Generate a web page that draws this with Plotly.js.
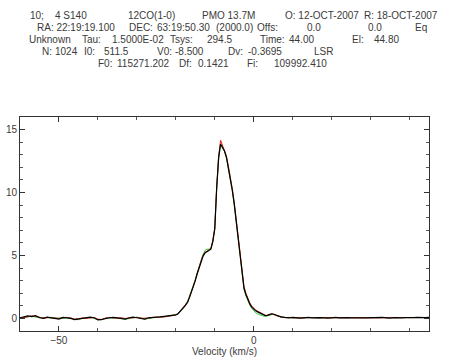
<!DOCTYPE html>
<html>
<head>
<meta charset="utf-8">
<script src="https://cdn.plot.ly/plotly-3.0.1.min.js"></script>
<style>html,body{margin:0;padding:0;background:#fff;}#chart{width:449px;height:362px;}</style>
</head>
<body>
<div id="chart"></div>
<script>
// ---------------- DATA ----------------
const velocity = [
 -60,-59,-58,-57,-56,-55,-54,-53,-52,-51,-50,-49,-48,-47,-46,-45,-44,-43,-42,-41,
 -40,-39,-38,-37,-36,-35,-34,-33,-32,-31,-30,-29,-28,-27,-26,-25,-24,-23,
 -22,-21.5,-21,-20.5,-20,-19.5,-19,-18.5,-18,-17.5,-17,-16.5,-16,-15.5,-15,-14.5,-14,-13.5,
 -13,-12.5,-12,-11.5,-11,-10.5,-10,-9.5,-9,-8.5,-8,-7.5,-7,-6.5,-6,-5.5,-5,-4.5,-4,-3.5,
 -3,-2.5,-2,-1.5,-1,-0.5,0,0.5,1,1.5,2,2.5,3,3.5,4,4.5,5,5.5,6,
 7,8,9,10,11,12,13,14,15,16,17,18,19,20,21,22,23,24,25,26,27,28,29,30,
 31,32,33,34,35,36,37,38,39,40,41,42,43,44,45
];
const tBlack = [
 0.05,0.10,0.20,0.15,0.22,0.05,0.00,0.10,0.05,0.00,-0.05,0.08,0.05,0.00,-0.10,-0.05,0.00,0.05,0.10,0.05,
 -0.12,-0.08,0.00,0.05,0.08,0.05,0.00,-0.05,0.05,0.10,0.05,0.00,-0.05,0.05,0.10,0.10,0.12,0.15,
 0.18,0.20,0.22,0.25,0.28,0.35,0.50,0.68,0.85,1.05,1.27,1.65,2.05,2.50,3.00,3.55,4.05,4.55,
 4.95,5.20,5.30,5.40,5.50,6.10,7.10,10.40,12.80,13.85,13.60,13.30,12.80,12.00,11.20,10.20,9.10,7.70,6.30,4.80,
 3.50,2.40,1.90,1.45,1.15,0.90,0.72,0.60,0.52,0.45,0.35,0.28,0.22,0.24,0.30,0.36,0.35,0.28,0.22,
 0.12,0.08,0.05,0.08,0.05,0.02,0.05,0.08,0.04,0.02,0.06,0.05,0.02,0.05,0.08,0.04,0.02,0.06,0.05,0.03,0.07,0.05,0.04,0.06,
 0.03,0.05,0.08,0.05,0.02,0.06,0.04,0.05,0.07,0.05,0.06,0.08,0.06,0.07,0.08
];
const tRed = [
 0.00,0.08,0.15,0.20,0.18,0.08,0.02,0.05,0.08,0.02,0.00,0.05,0.08,0.02,-0.05,-0.02,0.03,0.00,0.05,0.08,
 -0.05,-0.10,0.02,0.08,0.05,0.02,0.05,0.00,0.02,0.08,0.08,0.02,0.00,0.02,0.08,0.12,0.10,0.12,
 0.15,0.18,0.20,0.24,0.28,0.36,0.52,0.70,0.88,1.08,1.30,1.68,2.08,2.55,3.05,3.60,4.10,4.60,
 5.00,5.25,5.35,5.45,5.55,6.20,7.20,10.50,12.90,14.15,13.70,13.40,12.90,12.10,11.30,10.30,9.20,7.85,6.45,5.00,
 3.70,2.55,2.00,1.55,1.22,0.98,0.80,0.68,0.58,0.50,0.40,0.30,0.24,0.25,0.30,0.34,0.33,0.26,0.20,
 0.12,0.06,0.08,0.05,0.03,0.06,0.04,0.06,0.07,0.03,0.04,0.06,0.05,0.04,0.06,0.06,0.03,0.05,0.06,0.05,0.05,0.06,0.03,0.05,
 0.05,0.04,0.06,0.06,0.04,0.05,0.05,0.06,0.05,0.07,0.05,0.07,0.07,0.06,0.07
];
const tGreen = [
 0.05,0.05,0.12,0.18,0.10,0.05,0.05,0.08,0.02,0.05,0.02,0.00,0.05,0.05,-0.08,-0.10,0.02,0.05,0.05,0.02,
 -0.10,-0.12,0.05,0.05,0.02,0.05,0.02,-0.08,0.00,0.05,0.10,0.05,-0.08,0.00,0.05,0.08,0.12,0.12,
 0.15,0.20,0.24,0.28,0.30,0.38,0.55,0.72,0.90,1.10,1.35,1.75,2.15,2.60,3.10,3.65,4.15,4.70,
 5.10,5.40,5.50,5.50,5.55,6.10,7.10,10.30,12.70,13.80,13.55,13.25,12.75,11.95,11.10,10.10,9.00,7.60,6.20,4.70,
 3.40,2.30,1.80,1.35,1.05,0.80,0.60,0.45,0.35,0.28,0.22,0.18,0.16,0.20,0.26,0.32,0.33,0.27,0.20,
 0.10,0.07,0.05,0.06,0.04,0.04,0.06,0.06,0.05,0.03,0.05,0.06,0.04,0.05,0.07,0.05,0.03,0.05,0.06,0.04,0.06,0.04,0.05,0.05,
 0.04,0.06,0.07,0.04,0.03,0.05,0.05,0.04,0.06,0.06,0.05,0.06,0.07,0.07,0.07
];
const xTickVals = [-50, 0];
const yTickVals = [0, 5, 10, 15];
const xTitle = "Velocity (km/s)";
const headerRow1 = ["10;", "4 S140", "12CO(1-0)", "PMO 13.7M", "O: 12-OCT-2007", "R: 18-OCT-2007"];
const headerRow2 = ["RA: 22:19:19.100", "DEC:", "63:19:50.30", "(2000.0)", "Offs:", "0.0", "0.0", "Eq"];
const headerRow3 = ["Unknown", "Tau:", "1.5000E-02", "Tsys:", "294.5", "Time:", "44.00", "El:", "44.80"];
const headerRow4 = ["N:", "1024", "I0:", "511.5", "V0:", "-8.500", "Dv:", "-0.3695", "LSR"];
const headerRow5 = ["F0:", "115271.202", "Df:", "0.1421", "Fi:", "109992.410"];

// ---------------- LAYOUT ----------------
const W = 449, H = 362;
const mL = 20, mR = 20, mT = 117, mB = 31;
const pw = W - mL - mR, ph = H - mT - mB;
const px2x = p => (p - mL) / pw;
const py2y = p => (H - mB - p) / ph;

const rows = [headerRow1, headerRow2, headerRow3, headerRow4, headerRow5];
const rowX = [
 [28, 53, 126, 200, 283, 362],
 [35, 127, 155, 214, 255, 305, 366, 413],
 [27, 80, 110, 168, 205, 258, 287, 350, 372],
 [40, 53, 82, 102, 155, 173, 226, 246, 312],
 [96, 115, 177, 196, 245, 272]
];
const rowY = [15, 27, 39, 51.5, 63.5];
const annotations = [];
rows.forEach((r, i) => r.forEach((t, j) => {
  annotations.push({
    text: t, xref: 'paper', yref: 'paper', x: px2x(rowX[i][j]), y: py2y(rowY[i]),
    xanchor: 'left', yanchor: 'middle', showarrow: false,
    font: {family: 'Liberation Sans, Arial, sans-serif', size: 10, color: '#3a3a3a'}
  });
}));

const traces = [
  {x: velocity, y: tGreen, type: 'scatter', mode: 'lines', line: {color: '#33cc33', width: 1}},
  {x: velocity, y: tRed, type: 'scatter', mode: 'lines', line: {color: '#e02020', width: 1}},
  {x: velocity, y: tBlack, type: 'scatter', mode: 'lines', line: {color: '#000000', width: 1.2}}
];

const axisFont = {family: 'Liberation Sans, Arial, sans-serif', size: 10, color: '#3a3a3a'};
const layout = {
  width: W, height: H,
  margin: {l: mL, r: mR, t: mT, b: mB, pad: 0},
  paper_bgcolor: '#fff', plot_bgcolor: '#fff',
  showlegend: false,
  xaxis: {
    range: [-60, 45], tickmode: 'array', tickvals: xTickVals,
    ticks: 'inside', ticklen: 5, tickcolor: '#333', tickwidth: 1,
    showline: true, linecolor: '#333', linewidth: 1, mirror: 'ticks',
    showgrid: false, zeroline: false, tickfont: axisFont,
    minor: {dtick: 10, tick0: 0, ticks: 'inside', ticklen: 3, tickcolor: '#555', showgrid: false},
    title: {text: xTitle, font: axisFont, standoff: 2}
  },
  yaxis: {
    range: [-1, 16], tickmode: 'array', tickvals: yTickVals,
    ticks: 'inside', ticklen: 5, tickcolor: '#333', tickwidth: 1,
    showline: true, linecolor: '#333', linewidth: 1, mirror: 'ticks',
    showgrid: false, zeroline: false, tickfont: axisFont,
    minor: {dtick: 1, tick0: 0, ticks: 'inside', ticklen: 3, tickcolor: '#555', showgrid: false}
  },
  annotations: annotations
};

Plotly.newPlot('chart', traces, layout, {displayModeBar: false, staticPlot: true});
</script>
</body>
</html>
